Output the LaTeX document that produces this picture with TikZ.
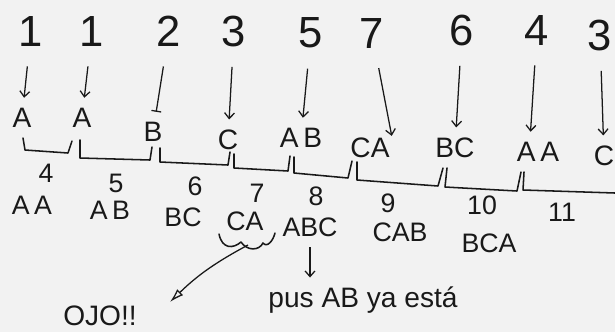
\documentclass[tikz,border=0pt]{standalone}
\usepackage{fontspec}
\setmainfont{Liberation Sans}
\usetikzlibrary{arrows.meta, positioning}
\definecolor{paper}{RGB}{242,242,242}
\definecolor{ink}{RGB}{25,25,25}

\begin{document}
\begin{tikzpicture}[
    x=0.025cm, y=-0.025cm,
    line width=1.1pt, draw=ink, text=ink,
    num/.style={font=\fontsize{31}{33}\selectfont, inner sep=0pt},
    sym/.style={font=\fontsize{20}{22}\selectfont, inner sep=1pt},
    code/.style={font=\fontsize{19}{21}\selectfont, inner sep=0pt},
    word/.style={font=\fontsize{19}{21}\selectfont, inner sep=1pt},
    arr/.style={-{Straight Barb[length=4pt,width=7pt]}, line width=0.9pt, shorten <=14pt, shorten >=6pt},
    stair/.style={line join=round, line cap=round}
]
    \fill[paper] (0,0) rectangle (615,332);
    \useasboundingbox (0,0) rectangle (615,332);

    % Input codes
    \node[num] (n1) at (31,31) {1};
    \node[num] (n2) at (92,31) {1};
    \node[num] (n3) at (169,31) {2};
    \node[num] (n4) at (234,31) {3};
    \node[num] (n5) at (311,33) {5};
    \node[num] (n6) at (372,33) {7};
    \node[num] (n7) at (462,30) {6};
    \node[num] (n8) at (537,30) {4};
    \node[num] (n9) at (600,35) {3};

    % Decoded output
    \node[sym] (s1) at (22,118) {A};
    \node[sym] (s2) at (82,118) {A};
    \node[sym] (s3) at (153,132) {B};
    \node[sym] (s4) at (228,140) {C};
    \node[sym] (s5) at (301,138) {A\,B};
    \node[sym] (s6) at (370,148) {CA};
    \node[sym] (s7) at (455,148) {BC};
    \node[sym] (s8) at (538,152) {A\,A};
    \node[sym] (s9) at (604,156) {C};

    % Code -> output
    \draw[arr] (n1) -- (s1);
    \draw[arr] (n2) -- (s2);
    \draw[arr, -{Bar[width=7pt]}] (n3) -- (s3);
    \draw[arr] (n4) -- (s4);
    \draw[arr] (n5) -- (s5);
    \draw[arr, shorten >=0pt] (n6) -- (s6.north east);
    \draw[arr] (n7) -- (s7);
    \draw[arr] (n8) -- ([xshift=-2mm]s8.north);
    \draw[arr] (n9) -- (s9);

    % Brackets under the output
    \draw[stair] (23,138) -- (25,150) -- (68,153) -- (72,141)
                 (80,140) -- (80,158) -- (150,160) -- (152,147)
                 (160,148) -- (160,162) -- (228,165) -- (230,152)
                 (234,154) -- (234,168) -- (288,171) -- (290,156)
                 (294,157) -- (294,173) -- (348,178) -- (352,161)
                 (357,162) -- (357,180) -- (438,186) -- (443,168)
                 (447,168) -- (445,187) -- (517,191) -- (521,172)
                 (524,172) -- (523,190) -- (615,193);

    % New dictionary entries
    \node[code] (c4) at (46,173) {4};
    \node[word] (w4) at (32,205) {A\,A};
    \node[code] (c5) at (116,183) {5};
    \node[word] (w5) at (110,210) {A\,B};
    \node[code] (c6) at (195,186) {6};
    \node[word] (w6) at (183,217) {BC};
    \node[code] (c7) at (257,193) {7};
    \node[word] (w7) at (245,221) {CA};
    \node[code] (c8) at (316,196) {8};
    \node[word] (w8) at (310,227) {ABC};
    \node[code] (c9) at (388,203) {9};
    \node[word] (w9) at (400,232) {CAB};
    \node[code] (c10) at (482,205) {10};
    \node[word] (w10) at (489,243) {BCA};
    \node[code] (c11) at (562,212) {11};

    % Remarks
    \draw[stair] (219,234) .. controls (222,249) and (233,249) .. (241,242)
                 .. controls (247,251) and (259,251) .. (263,243)
                 .. controls (267,248) and (273,241) .. (275,233);
    \coordinate (sq) at (248,245);
    \coordinate (tip) at (170,302);
    \draw[-{Latex[open,length=10pt,width=6pt]}, line width=0.9pt] (sq) to[bend right=8] (tip);
    \node[word, font=\fontsize{20}{22}\selectfont] (ojo) at (100,316) {OJO!!};

    \node[word, font=\fontsize{20}{22}\selectfont] (note) at (363,300) {pus AB ya está};
    \draw[arr, shorten <=6pt, shorten >=5pt] (w8.south) -- (w8.south |- note.north);
\end{tikzpicture}
\end{document}
